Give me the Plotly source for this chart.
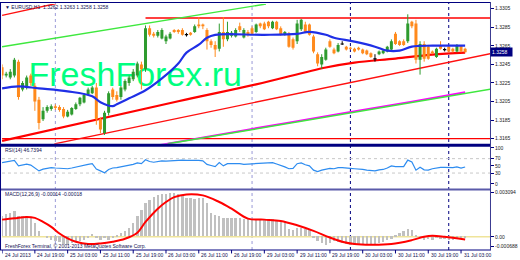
import plotly.graph_objects as go

# ---------------- data ----------------
bar_idx = list(range(114))
open_p = [1.3242,1.3233,1.3231,1.3233,1.3248,1.3218,1.3220,1.3233,1.3222,1.3207,
          1.3186,1.3195,1.3197,1.3200,1.3199,1.3197,1.3189,1.3191,1.3197,1.3202,
          1.3204,1.3213,1.3214,1.3220,1.3186,1.3171,1.3193,1.3218,1.3212,1.3210,
          1.3218,1.3225,1.3229,1.3233,1.3245,1.3240,1.3284,1.3278,1.3276,1.3273,
          1.3270,1.3273,1.3282,1.3282,1.3282,1.3277,1.3279,1.3280,1.3288,1.3288,
          1.3282,1.3270,1.3266,1.3262,1.3280,1.3272,1.3276,1.3275,1.3286,1.3274,
          1.3280,1.3284,1.3280,1.3289,1.3289,1.3291,1.3284,1.3291,1.3284,1.3277,
          1.3278,1.3272,1.3270,1.3283,1.3288,1.3288,1.3275,1.3256,1.3245,1.3250,
          1.3270,1.3261,1.3259,1.3267,1.3264,1.3263,1.3262,1.3263,1.3261,1.3260,
          1.3257,1.3251,1.3256,1.3257,1.3259,1.3261,1.3278,1.3270,1.3270,1.3270,
          1.3291,1.3289,1.3250,1.3267,1.3264,1.3259,1.3253,1.3265,1.3261,1.3264,
          1.3262,1.3259,1.3265,1.3262]
close_p = [1.3233,1.3235,1.3237,1.3250,1.3210,1.3225,1.3231,1.3225,1.3205,1.3182,
           1.3195,1.3199,1.3200,1.3198,1.3196,1.3189,1.3194,1.3198,1.3202,1.3209,
           1.3212,1.3218,1.3220,1.3186,1.3175,1.3193,1.3214,1.3210,1.3207,1.3220,
           1.3227,1.3231,1.3237,1.3246,1.3240,1.3284,1.3277,1.3276,1.3280,1.3282,
           1.3275,1.3278,1.3280,1.3280,1.3277,1.3277,1.3277,1.3286,1.3286,1.3286,
           1.3270,1.3266,1.3261,1.3280,1.3272,1.3280,1.3279,1.3282,1.3282,1.3282,
           1.3277,1.3278,1.3288,1.3286,1.3283,1.3286,1.3291,1.3283,1.3277,1.3280,
           1.3264,1.3263,1.3289,1.3293,1.3280,1.3277,1.3259,1.3246,1.3253,1.3261,
           1.3264,1.3257,1.3266,1.3267,1.3261,1.3262,1.3259,1.3261,1.3257,1.3256,
           1.3253,1.3251,1.3259,1.3260,1.3264,1.3270,1.3267,1.3266,1.3266,1.3289,
           1.3286,1.3250,1.3267,1.3251,1.3251,1.3257,1.3262,1.3262,1.3261,1.3259,
           1.3259,1.3266,1.3259,1.3258]
high_p = [1.3245,1.3237,1.3240,1.3252,1.3250,1.3227,1.3233,1.3235,1.3225,1.3210,
          1.3199,1.3201,1.3202,1.3202,1.3201,1.3199,1.3196,1.3199,1.3204,1.3210,
          1.3214,1.3220,1.3222,1.3225,1.3188,1.3195,1.3216,1.3220,1.3216,1.3222,
          1.3229,1.3233,1.3240,1.3248,1.3248,1.3287,1.3287,1.3280,1.3282,1.3284,
          1.3277,1.3280,1.3283,1.3283,1.3284,1.3279,1.3280,1.3288,1.3296,1.3289,
          1.3284,1.3272,1.3270,1.3289,1.3296,1.3291,1.3281,1.3284,1.3290,1.3284,
          1.3282,1.3286,1.3289,1.3290,1.3291,1.3292,1.3292,1.3292,1.3286,1.3281,
          1.3280,1.3274,1.3293,1.3294,1.3291,1.3289,1.3277,1.3258,1.3256,1.3263,
          1.3272,1.3263,1.3268,1.3270,1.3265,1.3264,1.3263,1.3264,1.3262,1.3261,
          1.3258,1.3256,1.3260,1.3261,1.3265,1.3272,1.3280,1.3271,1.3272,1.3299,
          1.3292,1.3293,1.3270,1.3270,1.3266,1.3260,1.3263,1.3270,1.3263,1.3265,
          1.3263,1.3267,1.3266,1.3263]
low_p = [1.3229,1.3231,1.3229,1.3231,1.3207,1.3216,1.3218,1.3222,1.3195,1.3175,
         1.3184,1.3193,1.3195,1.3196,1.3194,1.3187,1.3188,1.3190,1.3196,1.3200,
         1.3203,1.3212,1.3213,1.3180,1.3171,1.3169,1.3190,1.3207,1.3205,1.3207,
         1.3216,1.3222,1.3227,1.3231,1.3218,1.3237,1.3275,1.3274,1.3274,1.3272,
         1.3267,1.3272,1.3279,1.3278,1.3276,1.3275,1.3276,1.3279,1.3284,1.3283,
         1.3261,1.3263,1.3253,1.3259,1.3264,1.3270,1.3274,1.3274,1.3280,1.3273,
         1.3275,1.3277,1.3279,1.3284,1.3282,1.3284,1.3283,1.3282,1.3276,1.3276,
         1.3263,1.3261,1.3267,1.3281,1.3279,1.3276,1.3257,1.3243,1.3240,1.3249,
         1.3263,1.3256,1.3258,1.3266,1.3260,1.3261,1.3258,1.3260,1.3256,1.3255,
         1.3252,1.3248,1.3255,1.3256,1.3258,1.3260,1.3266,1.3265,1.3265,1.3268,
         1.3284,1.3246,1.3234,1.3248,1.3250,1.3256,1.3252,1.3261,1.3259,1.3258,
         1.3258,1.3258,1.3258,1.3258]

# moving averages (read at selected bars)
ma_blue_idx = [0,4,9,16,22,24,27,28,31,35,39,43,45,48,50,52,64,72,75,79,81,86,91,94,97,100,105,113]
ma_blue = [1.32192,1.32214,1.32192,1.32160,1.32107,1.32043,1.32000,1.32021,1.32085,1.32171,
           1.32299,1.32460,1.32577,1.32662,1.32737,1.32769,1.32769,1.32780,1.32801,1.32769,
           1.32737,1.32695,1.32641,1.32598,1.32598,1.32641,1.32652,1.32652]
ma_red_idx = [0,43,62,79,86,96,105,113]
ma_red = [1.31626,1.32053,1.32235,1.32417,1.32470,1.32513,1.32556,1.32577]
ma_mag_idx = [38,60,84,100,113]
ma_mag = [1.31578,1.31748,1.31930,1.32049,1.32150]

# drawn objects
green_upper = ([0, 64.4], [1.32641, 1.33101])
green_lower = ([40.4, 119.1], [1.31594, 1.32182])
red_trend = ([12.75, 119.1], [1.31594, 1.32566])
red_upper = ([0, 13.2], [1.32978, 1.33106])
red_resist = ([35, 119.1], [1.3295, 1.3295])
red_support = ([0, 119.1], [1.3165, 1.3165])
vline_idx_light = [13, 61]
vline_idx_dark = [85, 109]

rsi = [59,61,63,65,50,53,55,52,44,36,41,44,45,44,43,41,42,44,47,50,
       52,54,56,41,36,31,40,44,45,47,49,51,54,58,56,67,62,60,62,64,
       63,64,65,66,66,65,65,67,65,64,54,51,48,59,50,56,55,56,56,54,
       55,56,57,57,57,58,59,55,52,47,42,43,56,58,53,50,38,34,38,41,
       43,42,45,45,43,43,42,42,40,38,37,36,39,40,44,50,48,47,48,66,
       61,38,46,39,38,42,45,46,46,45,45,47,44,46.7]

macd_hist_e5 = [142,154,165,177,142,142,138,126,92,34,0,-11,-23,-30,-41,-50,-57,-46,-34,-34,
                -28,-11,18,-11,-23,-11,-23,-11,11,23,34,57,92,138,183,229,252,275,287,294,
                294,298,298,294,287,264,264,262,266,264,229,165,149,138,130,128,126,124,126,122,
                120,118,119,121,118,117,119,103,103,103,50,46,57,57,50,41,-11,-34,-46,-57,
                -46,-34,-41,-46,-50,-57,-57,-57,-57,-57,-57,-50,-46,-41,-28,-18,11,23,34,50,
                46,11,-11,-23,-18,-23,-11,-18,-18,-23,-23,-14,-18,-14]
macd_sig_idx = [0,3,6,8,10,12,14,16,18,21,24,27,30,33,35,38,40,42,45,49,53,56,60,64,68,72,76,80,83,86,90,95,100,103,105,108,113]
macd_sig_e5 = [119,128,138,131,103,69,23,-11,-34,-50,-46,-34,-14,28,103,195,241,275,294,287,
               241,195,126,119,110,80,41,-5,-34,-50,-55,-50,-23,0,7,0,-18]

x_tick_idx = list(range(0, 113, 8))
x_tick_text = ["24 Jul 2013", "24 Jul 19:00", "25 Jul 03:00", "25 Jul 11:00", "25 Jul 19:00",
               "26 Jul 03:00", "26 Jul 11:00", "26 Jul 19:00", "29 Jul 03:00", "29 Jul 11:00",
               "29 Jul 19:00", "30 Jul 03:00", "30 Jul 11:00", "30 Jul 19:00", "31 Jul 03:00"]
price_ticks = [1.3165, 1.3185, 1.3205, 1.3225, 1.3245, 1.3265, 1.3285, 1.3305]
rsi_ticks = [0, 30, 50, 70, 100]
macd_ticks = [-0.000688, 0.0, 0.003094]
macd_tick_text = ["-0.000688", "0.00", "0.003094"]
last_price = 1.3258

# ---------------- layout helpers ----------------
W, H = 520, 260
ML, MR, MT, MB = 2, 22, 2, 10
PW, PH = W - ML - MR, H - MT - MB
BAR_PX = 4.165
X0 = -0.02
X1 = X0 + PW / BAR_PX

def py(px):
    return (H - MB - px) / PH

def pxx(px):
    return (px - ML) / PW

NAVY = "#000080"
GREEN_C = "#2E9B2E"
ORANGE_C = "#FF8A1C"
FONT = "Liberation Sans"

fig = go.Figure()

# watermark (under everything)
fig.add_trace(go.Scatter(x=[32.5], y=[1.3231], mode="text", text=["FreshForex.ru"],
                         textfont=dict(family=FONT, size=34, color="#00FF7F"),
                         textposition="middle center", hoverinfo="skip", showlegend=False))

def add_line(pts, color, width, yaxis="y"):
    fig.add_trace(go.Scatter(x=pts[0], y=pts[1], mode="lines", yaxis=yaxis,
                             line=dict(color=color, width=width),
                             hoverinfo="skip", showlegend=False))

add_line(red_support, "#FF0000", 1.3)
add_line(red_resist, "#FF0000", 1.3)
add_line(green_upper, "#3EE83E", 1.4)
add_line(red_trend, "#FF1010", 1.4)
add_line(red_upper, "#FF1010", 1.4)

fig.add_trace(go.Scatter(x=ma_mag_idx, y=ma_mag, mode="lines", line=dict(color="#FF00FF", width=1.8, shape="spline"),
                         hoverinfo="skip", showlegend=False))
add_line(green_lower, "#3EE83E", 1.5)
fig.add_trace(go.Scatter(x=ma_red_idx, y=ma_red, mode="lines", line=dict(color="#FF0000", width=2.2, shape="spline"),
                         hoverinfo="skip", showlegend=False))

# candles
groups = {GREEN_C: ([], [], [], []), ORANGE_C: ([], [], [], []), "#000000": ([], [], [], [])}
for i, o, h, l, c in zip(bar_idx, open_p, high_p, low_p, close_p):
    col = GREEN_C if c > o else (ORANGE_C if c < o else "#000000")
    wx, wy, bx, by = groups[col]
    wx += [i, i, None]
    wy += [l, h, None]
    if c == o:
        bx += [i - 0.4, i + 0.4, None]
        by += [o, o, None]
    else:
        bx += [i, i, None]
        by += [o, c, None]
for col, (wx, wy, bx, by) in groups.items():
    fig.add_trace(go.Scatter(x=wx, y=wy, mode="lines", line=dict(color=col, width=1),
                             hoverinfo="skip", showlegend=False))
    fig.add_trace(go.Scatter(x=bx, y=by, mode="lines",
                             line=dict(color=col, width=1.2 if col == "#000000" else 3),
                             hoverinfo="skip", showlegend=False))

fig.add_trace(go.Scatter(x=ma_blue_idx, y=ma_blue, mode="lines", line=dict(color="#1F2FE6", width=2.2, shape="spline"),
                         hoverinfo="skip", showlegend=False))

# RSI
fig.add_trace(go.Scatter(x=bar_idx, y=rsi, yaxis="y2", mode="lines", line=dict(color="#2D8CF0", width=1.2),
                         hoverinfo="skip", showlegend=False))

# MACD
fig.add_trace(go.Bar(x=bar_idx, y=[v * 1e-5 for v in macd_hist_e5], yaxis="y3", width=0.58,
                     marker=dict(color="#C0C0C0", line=dict(width=0)), hoverinfo="skip", showlegend=False))
fig.add_trace(go.Scatter(x=macd_sig_idx, y=[v * 1e-5 for v in macd_sig_e5], yaxis="y3", mode="lines",
                         line=dict(color="#FF0000", width=2, shape="spline"), hoverinfo="skip", showlegend=False))

shapes = []
# separators / borders
shapes.append(dict(type="rect", xref="paper", yref="paper", x0=pxx(0), x1=pxx(498), y0=py(146), y1=py(143),
                   fillcolor=NAVY, line=dict(width=0)))
shapes.append(dict(type="line", xref="paper", yref="paper", x0=pxx(0), x1=pxx(499), y0=py(189), y1=py(189),
                   line=dict(color="#5A5AAA", width=2)))
shapes.append(dict(type="line", xref="paper", yref="paper", x0=pxx(0), x1=pxx(499), y0=py(0.5), y1=py(0.5),
                   line=dict(color=NAVY, width=1)))
shapes.append(dict(type="line", xref="paper", yref="paper", x0=pxx(0.5), x1=pxx(0.5), y0=py(0), y1=py(250),
                   line=dict(color=NAVY, width=1)))
shapes.append(dict(type="line", xref="paper", yref="paper", x0=pxx(0), x1=pxx(499), y0=py(250), y1=py(250),
                   line=dict(color=NAVY, width=1)))
shapes.append(dict(type="line", xref="paper", yref="paper", x0=pxx(498.5), x1=pxx(498.5), y0=py(0), y1=py(250),
                   line=dict(color="#3A3A90", width=1)))
# vertical separators
for v in vline_idx_light:
    shapes.append(dict(type="line", xref="x", yref="paper", x0=v, x1=v, y0=py(250), y1=py(1), layer="below",
                       line=dict(color="#9A9AD8", width=1, dash="dot")))
for v in vline_idx_dark:
    shapes.append(dict(type="line", xref="x", yref="paper", x0=v, x1=v, y0=py(250), y1=py(1), layer="below",
                       line=dict(color=NAVY, width=1, dash="dot")))
# RSI levels
for lv in (70, 30):
    shapes.append(dict(type="line", xref="paper", yref="y2", x0=0, x1=1, y0=lv, y1=lv, layer="below",
                       line=dict(color="#C8C8C8", width=1, dash="dot")))
# MACD zero
shapes.append(dict(type="line", xref="paper", yref="y3", x0=0, x1=1, y0=0, y1=0, layer="below",
                   line=dict(color="#EFE49A", width=1.5)))
# x tick marks
for t in x_tick_idx:
    shapes.append(dict(type="line", xref="x", yref="paper", x0=t, x1=t, y0=py(250), y1=py(253.5),
                       line=dict(color=NAVY, width=1)))

annotations = []
small = dict(family=FONT, size=5, color="#101050")
for t, lab in zip(x_tick_idx, x_tick_text):
    annotations.append(dict(x=t, xref="x", y=py(255.5), yref="paper", text=lab, showarrow=False,
                            xanchor="left", yanchor="middle", xshift=0.5, font=small))
annotations.append(dict(x=pxx(3), xref="paper", y=py(5.5), yref="paper", showarrow=False, xanchor="left",
                        yanchor="middle", text="▼ EURUSD,H1  1.3262 1.3263 1.3258 1.3258", font=small))
annotations.append(dict(x=pxx(3), xref="paper", y=py(149.5), yref="paper", showarrow=False, xanchor="left",
                        yanchor="middle", text="RSI(14) 46.7394", font=small))
annotations.append(dict(x=pxx(3), xref="paper", y=py(193.5), yref="paper", showarrow=False, xanchor="left",
                        yanchor="middle", text="MACD(12,26,9) -0.00014 -0.00018", font=small))
annotations.append(dict(x=pxx(3), xref="paper", y=py(245.5), yref="paper", showarrow=False, xanchor="left",
                        yanchor="middle", text="FreshForex Terminal, © 2001-2013 MetaQuotes Software Corp.",
                        font=small))
annotations.append(dict(x=1, xref="paper", y=last_price, yref="y", showarrow=False, xanchor="left",
                        yanchor="middle", text="1.3258", bgcolor=NAVY, borderpad=1, width=19, align="left",
                        font=dict(family=FONT, size=5, color="#FFFFFF")))

axis_common = dict(side="right", anchor="x", showgrid=False, zeroline=False, showline=False,
                   ticks="outside", ticklen=3, tickwidth=1, tickcolor=NAVY,
                   tickfont=dict(family=FONT, size=5, color="#202020"), fixedrange=True)

fig.update_layout(
    width=W, height=H, margin=dict(l=ML, r=MR, t=MT, b=MB),
    paper_bgcolor="white", plot_bgcolor="white", showlegend=False, hovermode=False,
    bargap=0,
    xaxis=dict(domain=[0, 1], range=[X0, X1], showgrid=False, zeroline=False, showticklabels=False,
               ticks="", showline=False, anchor="y3", fixedrange=True),
    yaxis=dict(domain=[py(143), py(2)], range=[1.31594, 1.33101], tickvals=price_ticks,
               ticktext=[f"{v:.4f}" for v in price_ticks], **axis_common),
    yaxis2=dict(domain=[py(188), py(146)], range=[-12.9, 102.8], tickvals=rsi_ticks,
                ticktext=[str(v) for v in rsi_ticks], **axis_common),
    yaxis3=dict(domain=[py(250), py(190)], range=[-0.000915, 0.00321], tickvals=macd_ticks,
                ticktext=macd_tick_text, **axis_common),
    shapes=shapes, annotations=annotations,
)

fig.write_html("out.html", config={"displayModeBar": False})
